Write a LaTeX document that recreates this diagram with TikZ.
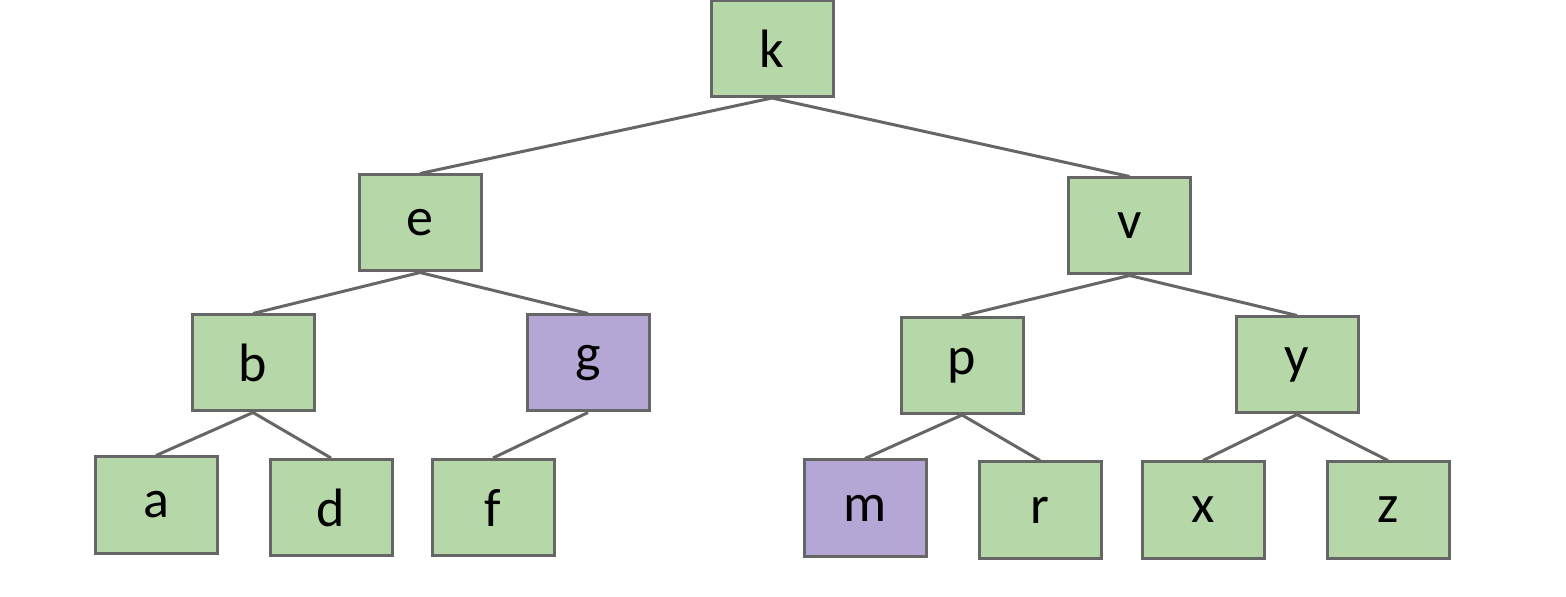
\documentclass[tikz,border=0pt]{standalone}
\usepackage{fontspec}
\setmainfont{Carlito}
\definecolor{gr}{HTML}{B6D7A8}
\definecolor{pu}{HTML}{B4A7D6}
\definecolor{bd}{HTML}{666666}
\begin{document}
\begin{tikzpicture}[x=0.5pt,y=-0.5pt,
 box/.style={draw=bd,line width=1.5pt,fill=gr,minimum width=61pt,minimum height=48pt,inner sep=0pt,font=\fontsize{27}{30}\selectfont},
 hl/.style={box,fill=pu},
 ed/.style={draw=bd,line width=1.5pt}]
\useasboundingbox (0,0) rectangle (1566,597);
\node[box] (k) at (772,48.5) {k};
\node[box] (e) at (420,223) {e};
\node[box] (v) at (1129.5,226) {v};
\node[box] (b) at (253,363) {b};
\node[hl] (g) at (588,363) {g};
\node[box] (p) at (962,365.5) {p};
\node[box] (y) at (1297,365) {y};
\node[box] (a) at (156,505) {a};
\node[box] (d) at (331,507.5) {d};
\node[box] (f) at (493,507.5) {f};
\node[hl] (m) at (865,508) {m};
\node[box] (r) at (1040,510) {r};
\node[box] (x) at (1203,510) {x};
\node[box] (z) at (1388,510) {z};
\foreach \p/\c in {k/e,k/v,e/b,e/g,v/p,v/y,b/a,b/d,g/f,p/m,p/r,y/x,y/z}
 \draw[ed] (\p.south) -- (\c.north);
\end{tikzpicture}
\end{document}
